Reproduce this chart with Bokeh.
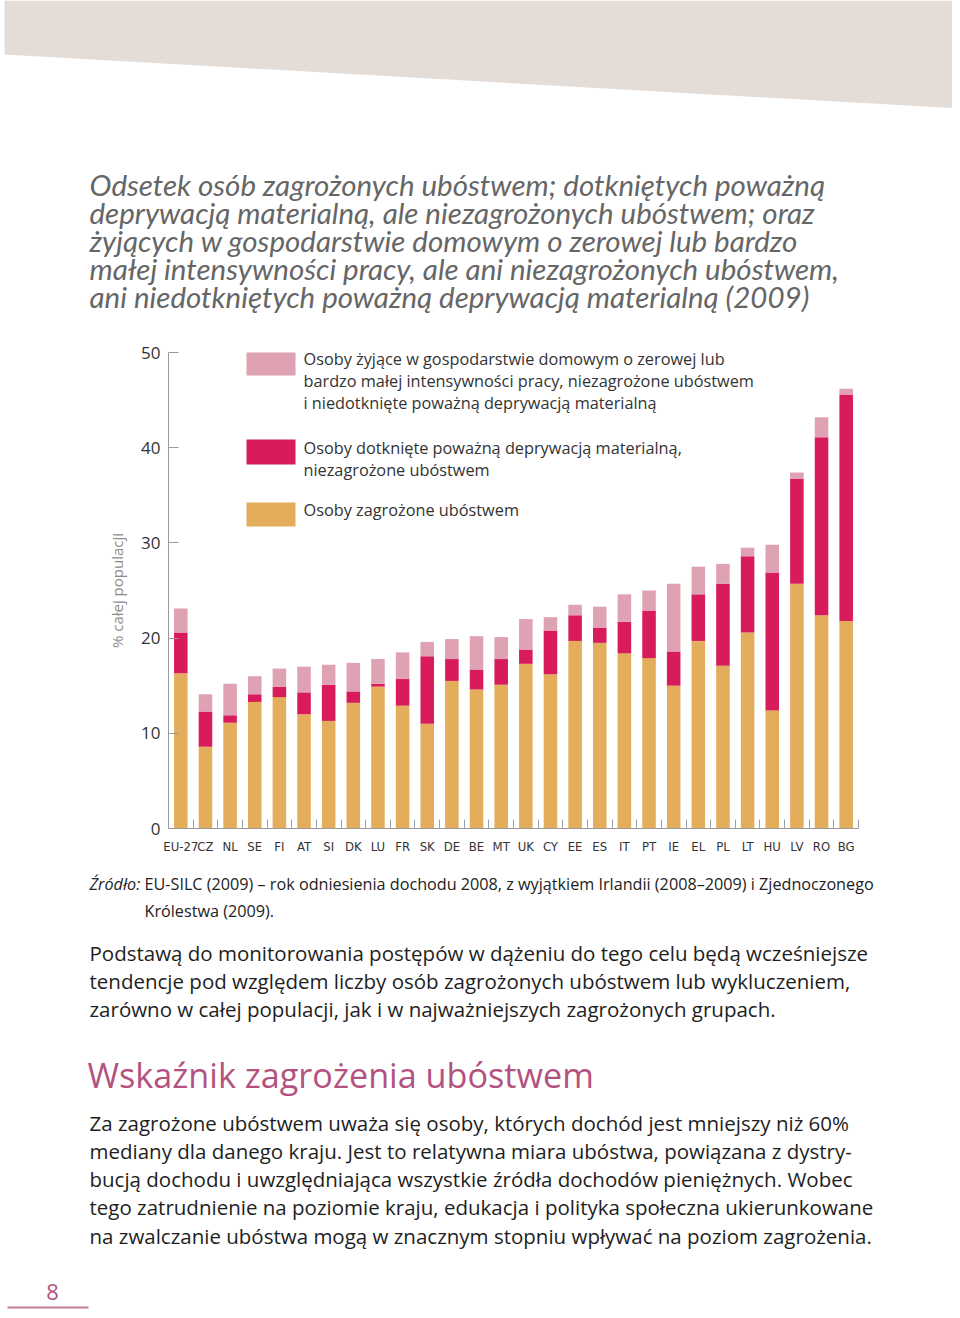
from bokeh.plotting import figure
from bokeh.layouts import column
from bokeh.models import Range1d, FixedTicker, ColumnDataSource
from bokeh.core.properties import value
from bokeh.embed import file_html
from bokeh.resources import INLINE

# ---------------- data ----------------
countries = ["EU-27", "CZ", "NL", "SE", "FI", "AT", "SI", "DK", "LU", "FR", "SK", "DE", "BE", "MT",
             "UK", "CY", "EE", "ES", "IT", "PT", "IE", "EL", "PL", "LT", "HU", "LV", "RO", "BG"]
at_risk = [16.3, 8.6, 11.1, 13.3, 13.8, 12.0, 11.3, 13.2, 14.9, 12.9, 11.0, 15.5, 14.6, 15.1,
           17.3, 16.2, 19.7, 19.5, 18.4, 17.9, 15.0, 19.7, 17.1, 20.6, 12.4, 25.7, 22.4, 21.8]
deprived_only = [4.3, 3.7, 0.8, 0.8, 1.1, 2.3, 3.8, 1.2, 0.3, 2.8, 7.1, 2.3, 2.1, 2.7,
                 1.5, 4.6, 2.7, 1.6, 3.3, 5.0, 3.6, 4.9, 8.6, 8.0, 14.5, 11.0, 18.7, 23.8]
low_work_only = [2.5, 1.8, 3.3, 1.9, 1.9, 2.7, 2.1, 3.0, 2.6, 2.8, 1.5, 2.1, 3.5, 2.3,
                 3.2, 1.4, 1.1, 2.2, 2.9, 2.1, 7.1, 2.9, 2.1, 0.9, 2.9, 0.7, 2.1, 0.6]
y_ticks = [0, 10, 20, 30, 40, 50]

legend_labels = [
    ["Osoby żyjące w gospodarstwie domowym o zerowej lub",
     "bardzo małej intensywności pracy, niezagrożone ubóstwem",
     "i niedotknięte poważną deprywacją materialną"],
    ["Osoby dotknięte poważną deprywacją materialną,",
     "niezagrożone ubóstwem"],
    ["Osoby zagrożone ubóstwem"],
]
y_axis_title = "% całej populacji"

title_lines = [
    "Odsetek osób zagrożonych ubóstwem; dotkniętych poważną",
    "deprywacją materialną, ale niezagrożonych ubóstwem; oraz",
    "żyjących w gospodarstwie domowym o zerowej lub bardzo",
    "małej intensywności pracy, ale ani niezagrożonych ubóstwem,",
    "ani niedotkniętych poważną deprywacją materialną (2009)",
]
source_label = "Źródło:"
source_lines = [
    "EU-SILC (2009) – rok odniesienia dochodu 2008, z wyjątkiem Irlandii (2008–2009) i Zjednoczonego",
    "Królestwa (2009).",
]
para1 = [
    "Podstawą do monitorowania postępów w dążeniu do tego celu będą wcześniejsze",
    "tendencje pod względem liczby osób zagrożonych ubóstwem lub wykluczeniem,",
    "zarówno w całej populacji, jak i w najważniejszych zagrożonych grupach.",
]
heading = "Wskaźnik zagrożenia ubóstwem"
para2 = [
    "Za zagrożone ubóstwem uważa się osoby, których dochód jest mniejszy niż 60%",
    "mediany dla danego kraju. Jest to relatywna miara ubóstwa, powiązana z dystry-",
    "bucją dochodu i uwzględniająca wszystkie źródła dochodów pieniężnych. Wobec",
    "tego zatrudnienie na poziomie kraju, edukacja i polityka społeczna ukierunkowane",
    "na zwalczanie ubóstwa mogą w znacznym stopniu wpływać na poziom zagrożenia.",
]
page_number = "8"

# ---------------- styles ----------------
YELLOW = "#e3ad5b"
RED = "#d81c5b"
PINK = "#dfa2b3"
MAUVE = "#b4527f"
BODY_FONT = "Open Sans"
W = 952
HEAD_H, CHART_H, FOOT_H = 340, 530, 440
FL, FR, FT, FB = 168, 858, 352, 828   # chart frame edges in page pixels


def blank(height, y_top):
    p = figure(width=W, height=height, x_range=Range1d(0, W),
               y_range=Range1d(y_top + height, y_top), output_backend="svg",
               toolbar_location=None, x_axis_location=None, y_axis_location=None,
               min_border=0, frame_align=False)
    p.outline_line_color = None
    p.xgrid.visible = False
    p.ygrid.visible = False
    return p


def lines(fig, x, ys, texts, size, color="#1e1e1e", font=BODY_FONT, style="normal", align="left"):
    fig.text(x=[x] * len(texts), y=ys, text=texts, text_font=value(font), text_font_style=style,
             text_font_size=size, text_color=color, text_baseline="middle", text_align=align)


# ---------------- header ----------------
head = blank(HEAD_H, 0)
head.patch([4, 960, 960, 4], [0, 0, 108, 54], color="#e3dcd7", line_color=None)
lines(head, 89, [184, 212, 240, 268, 296], title_lines, "29.5px", color="#666666",
      font="Lato", style="italic")

# ---------------- chart ----------------
xs = list(range(len(countries)))
src = ColumnDataSource(dict(x=xs, at_risk=at_risk, deprived_only=deprived_only,
                            low_work_only=low_work_only))
p = figure(width=W, height=CHART_H, x_range=Range1d(-0.5, len(countries) - 0.5),
           y_range=Range1d(0, 50), output_backend="svg", toolbar_location=None,
           min_border_left=FL, min_border_right=W - FR, min_border_top=FT - HEAD_H,
           min_border_bottom=HEAD_H + CHART_H - FB, frame_align=False)
p.outline_line_color = None
p.xgrid.visible = False
p.ygrid.visible = False

p.vbar_stack(["at_risk", "deprived_only", "low_work_only"], x="x", width=0.55,
             color=[YELLOW, RED, PINK], line_color=None, source=src)

xa = p.xaxis[0]
xa.ticker = FixedTicker(ticks=xs, minor_ticks=[i + 0.5 for i in xs])
xa.major_label_overrides = {i: c for i, c in enumerate(countries)}
xa.major_tick_line_color = None
xa.major_tick_in = 0
xa.major_tick_out = 0
xa.minor_tick_in = 9
xa.minor_tick_out = 0
xa.minor_tick_line_color = "#9aa0a8"
xa.axis_line_color = "#9a9a9a"
xa.major_label_text_font = "DejaVu Sans Condensed, Roboto Condensed, Roboto"
xa.major_label_text_font_size = "13px"
xa.major_label_text_color = "#333333"
xa.major_label_standoff = 10

ya = p.yaxis[0]
ya.ticker = FixedTicker(ticks=y_ticks)
ya.major_tick_in = 10
ya.major_tick_out = 0
ya.major_tick_line_color = "#9a9a9a"
ya.axis_line_color = "#9a9a9a"
ya.minor_tick_line_color = None
ya.major_label_text_font = BODY_FONT
ya.major_label_text_font_size = "17px"
ya.major_label_text_color = "#333333"
ya.major_label_standoff = 8
ya.axis_label = y_axis_title
ya.axis_label_text_font = BODY_FONT
ya.axis_label_text_font_style = "normal"
ya.axis_label_text_font_size = "15px"
ya.axis_label_text_color = "#8c8c8c"
ya.axis_label_standoff = 11

# legend in page-pixel coordinates mapped onto the frame
p.extra_x_ranges = {"px": Range1d(FL, FR)}
p.extra_y_ranges = {"px": Range1d(FB, FT)}
p.quad(left=[246, 246, 246], right=[295, 295, 295], top=[351, 439, 502], bottom=[375, 464, 526],
       color=[PINK, RED, YELLOW], line_color=None, x_range_name="px", y_range_name="px")
leg_y = [[358, 380, 402], [447, 469], [509]]
lt, ly = [], []
for ls, ys in zip(legend_labels, leg_y):
    lt += ls
    ly += ys
p.text(x=[303] * len(lt), y=ly, text=lt, text_font=value(BODY_FONT), text_font_size="16.3px",
       text_color="#333333", text_baseline="middle", text_align="left",
       x_range_name="px", y_range_name="px")

# ---------------- footer ----------------
foot = blank(FOOT_H, HEAD_H + CHART_H)
lines(foot, 89, [883], [source_label], "16.2px", color="#222222", style="italic")
lines(foot, 144, [883, 910], source_lines, "16.2px", color="#222222")
lines(foot, 89, [952, 980, 1008], para1, "20.5px")
lines(foot, 87, [1074], [heading], "34.2px", color=MAUVE)
lines(foot, 89, [1122, 1150, 1178, 1206, 1235], para2, "20.5px")
lines(foot, 52, [1291], [page_number], "22px", color=MAUVE, align="center")
foot.segment(x0=[7], y0=[1307], x1=[88], y1=[1307], line_color="#c77b9c", line_width=2)

layout = column(head, p, foot, spacing=0)
open("out.html", "w").write(file_html(layout, INLINE))
